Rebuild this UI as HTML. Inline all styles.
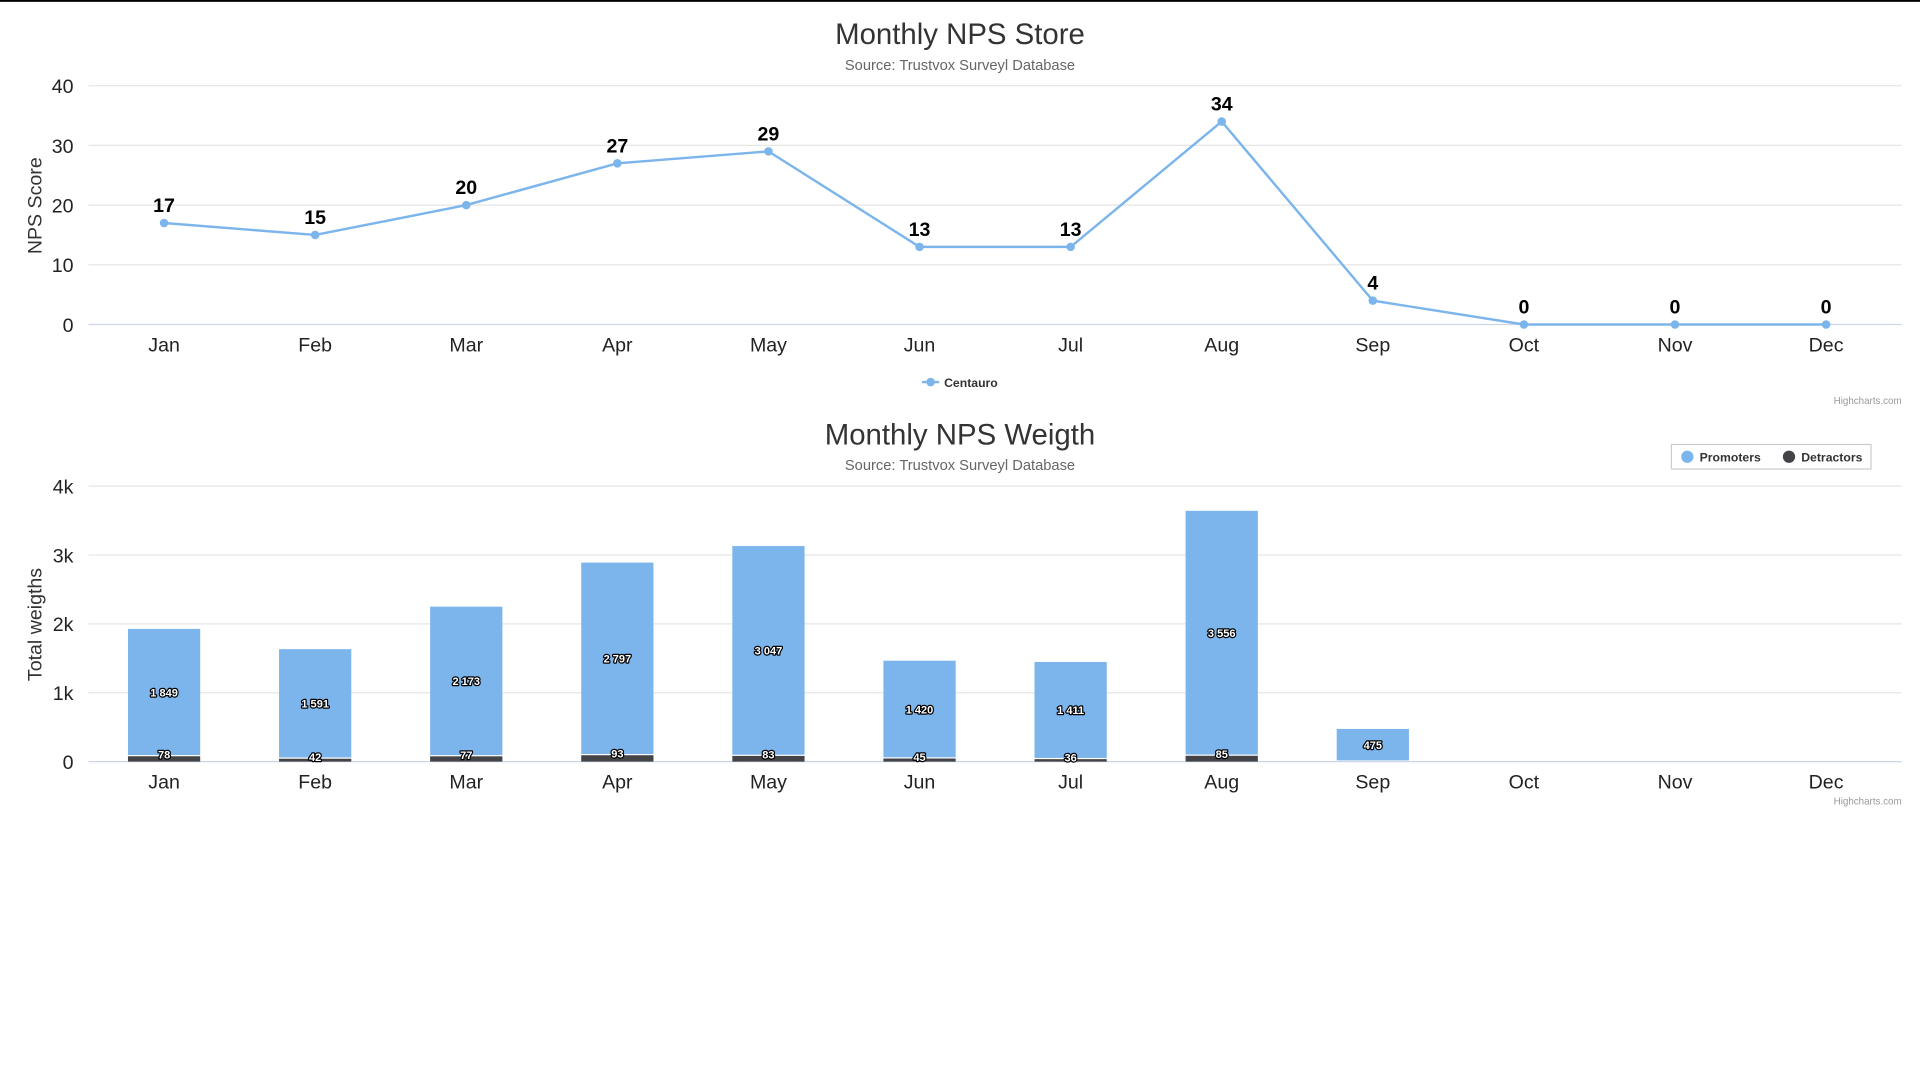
<!DOCTYPE html>
<html><head><meta charset="utf-8"><style>
html,body{margin:0;padding:0;background:#fff;width:1920px;height:1080px;overflow:hidden}
svg{display:block;font-family:"Liberation Sans",Arial,sans-serif}
.lbl{font-weight:bold;font-size:9px;fill:#fff;stroke:#000;stroke-width:2px;paint-order:stroke;stroke-linejoin:round}
</style></head><body>
<svg id="root" width="1920" height="1080" viewBox="0 0 1568 882" xmlns="http://www.w3.org/2000/svg">
<rect x="0" y="0" width="1568" height="1.5" fill="#000"/>
<g id="c1">
<text x="784" y="36" text-anchor="middle" font-size="24" fill="#333">Monthly NPS Store</text>
<text x="784" y="57" text-anchor="middle" font-size="12" fill="#666">Source: Trustvox Surveyl Database</text>
<text transform="translate(34,168) rotate(-90)" text-anchor="middle" font-size="16" fill="#333">NPS Score</text>
<g id="c1grid"></g><g id="c1marks"></g>
<g>
<line x1="753" y1="312" x2="767" y2="312" stroke="#7cb5ec" stroke-width="2"/><circle cx="760" cy="312" r="3.5" fill="#7cb5ec"/>
<text x="771" y="316" font-size="10" font-weight="bold" fill="#333">Centauro</text></g>
<text x="1553" y="330" text-anchor="end" font-size="8" fill="#999">Highcharts.com</text>
</g>
<g id="c2">
<text x="784" y="363" text-anchor="middle" font-size="24" fill="#333">Monthly NPS Weigth</text>
<text x="784" y="384" text-anchor="middle" font-size="12" fill="#666">Source: Trustvox Surveyl Database</text>
<text transform="translate(34,510) rotate(-90)" text-anchor="middle" font-size="16" fill="#333">Total weigths</text>
<g id="c2grid"></g><g id="c2marks"></g>
<g>
<rect x="1365" y="363" width="163" height="20" fill="#fff" stroke="#ccc" stroke-width="1"/>
<g><circle cx="1378" cy="373" r="5" fill="#7cb5ec"/><text x="1388" y="377" font-size="10" font-weight="bold" fill="#333">Promoters</text></g>
<g><circle cx="1461" cy="373" r="5" fill="#434348"/><text x="1471" y="377" font-size="10" font-weight="bold" fill="#333">Detractors</text></g>
</g>
<text x="1553" y="657" text-anchor="end" font-size="8" fill="#999">Highcharts.com</text>
</g>
</svg>
<script>
const months = ["Jan","Feb","Mar","Apr","May","Jun","Jul","Aug","Sep","Oct","Nov","Dec"];
const npsScores = [17,15,20,27,29,13,13,34,4,0,0,0];
const scoreTicks = [0,10,20,30,40];
const promoters = [1849,1591,2173,2797,3047,1420,1411,3556,475,0,0,0];
const detractors = [78,42,77,93,83,45,36,85,0,0,0,0];
const weightTicks = [0,1000,2000,3000,4000];
const weightTickLabels = ["0","1k","2k","3k","4k"];

const NS="http://www.w3.org/2000/svg";
function mk(tag,attrs,parent,text){const e=document.createElementNS(NS,tag);for(const k in attrs)e.setAttribute(k,attrs[k]);if(text!==undefined)e.textContent=text;parent.appendChild(e);return e;}
const L=72.3,R=1553,step=(R-L)/12;
function xC(i){return L+step*(i+0.5);}
function fmt(v){return String(v).replace(/\B(?=(\d{3})+(?!\d))/g," ");}

// Chart 1
const y1=v=>265-(v/40)*195;
const g1=document.getElementById('c1grid'),m1=document.getElementById('c1marks');
scoreTicks.forEach(t=>{
  const ln=mk('line',{x1:L,x2:R,y1:y1(t),y2:y1(t),stroke:t===0?'#ccd6eb':'#e6e6e6','stroke-width':1},g1);
  
  
  const tx=mk('text',{x:60,y:y1(t)+6,'text-anchor':'end','font-size':16,fill:'#222'},g1,String(t));
  
  
});
months.forEach((m,i)=>{
  const tx=mk('text',{x:xC(i),y:287,'text-anchor':'middle','font-size':16,fill:'#222'},g1,m);
  
  
});
const pts=npsScores.map((v,i)=>xC(i)+','+y1(v)).join(' ');
const pl=mk('polyline',{points:pts,fill:'none',stroke:'#7cb5ec','stroke-width':2},m1);


npsScores.forEach((v,i)=>{
  const c=mk('circle',{cx:xC(i),cy:y1(v),r:3.5,fill:'#7cb5ec'},m1);
  
  
  const t=mk('text',{x:xC(i),y:y1(v)-9,'text-anchor':'middle','font-size':16,'font-weight':'bold',fill:'#000'},m1,String(v));
  
  
});

// Chart 2
const y2=v=>622-(v/4000)*225;
const g2=document.getElementById('c2grid'),m2=document.getElementById('c2marks');
weightTicks.forEach((t,k)=>{
  const ln=mk('line',{x1:L,x2:R,y1:y2(t),y2:y2(t),stroke:t===0?'#ccd6eb':'#e6e6e6','stroke-width':1},g2);
  
  
  const tx=mk('text',{x:60,y:y2(t)+6,'text-anchor':'end','font-size':16,fill:'#222'},g2,weightTickLabels[k]);
  
  
});
months.forEach((m,i)=>{
  const tx=mk('text',{x:xC(i),y:644,'text-anchor':'middle','font-size':16,fill:'#222'},g2,m);
  
  
});
const bw=59;
months.forEach((m,i)=>{
  const d=detractors[i],p=promoters[i];
  const x=xC(i)-bw/2;
  if(d>0){
    const r=mk('rect',{x:x,y:y2(d),width:bw,height:y2(0)-y2(d),fill:'#434348'},m2);
    
    
  }
  if(p>0){
    const r=mk('rect',{x:x,y:y2(d+p),width:bw,height:y2(d)-y2(d+p)-1,fill:'#7cb5ec'},m2);
    
    
    const t=mk('text',{x:xC(i),y:(y2(d+p)+y2(d))/2+3,'text-anchor':'middle',class:'lbl'},m2,fmt(p));
    
    
  }
  if(d>0){
    const t=mk('text',{x:xC(i),y:y2(d)+2,'text-anchor':'middle',class:'lbl'},m2,fmt(d));
    
    
  }
});
</script>
</body></html>
